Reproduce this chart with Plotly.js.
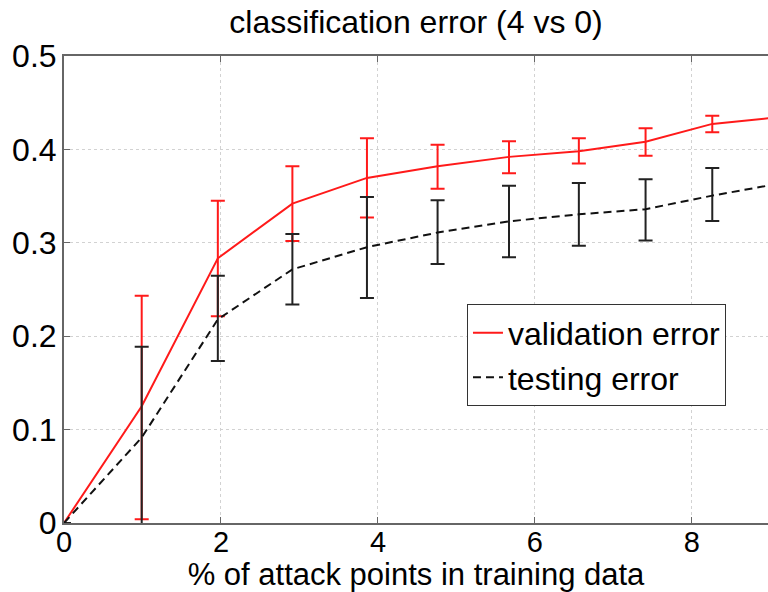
<!DOCTYPE html>
<html>
<head>
<meta charset="utf-8">
<script src="https://cdn.plot.ly/plotly-3.0.1.min.js"></script>
<style>html,body{margin:0;padding:0;background:#fff;}#chart{width:768px;height:592px;}</style>
</head>
<body>
<div id="chart"></div>
<script>
// Data
const xVals = [0, 0.99, 1.96, 2.91, 3.86, 4.76, 5.67, 6.56, 7.41, 8.26, 9.12];
const validationErr = [0.0, 0.125, 0.2834, 0.342, 0.3695, 0.382, 0.392, 0.398, 0.4083, 0.4273, 0.4345];
const validationUp = [0.0, 0.1183, 0.0616, 0.040, 0.0425, 0.023, 0.0166, 0.014, 0.0144, 0.0086, 0.008];
const validationDown = [0.0, 0.121, 0.062, 0.040, 0.0425, 0.024, 0.0175, 0.013, 0.015, 0.0089, 0.008];
const testingErr = [0.0, 0.0915, 0.218, 0.2716, 0.2953, 0.311, 0.323, 0.3305, 0.336, 0.3505, 0.3635];
const testingUp = [0.0, 0.0971, 0.0467, 0.0378, 0.0537, 0.0345, 0.038, 0.0335, 0.032, 0.0295, 0.03];
const testingDown = [0.0, 0.1015, 0.0445, 0.0376, 0.0543, 0.0336, 0.0384, 0.0337, 0.0335, 0.0272, 0.03];
const xTicks = [0, 2, 4, 6, 8];
const yTicks = [0, 0.1, 0.2, 0.3, 0.4, 0.5];
const yTickText = ['0', '0.1', '0.2', '0.3', '0.4', '0.5'];

const FONT = 'Liberation Sans, Arial, Helvetica, sans-serif';

const traces = [
  {
    x: xVals, y: validationErr, name: 'validation error', type: 'scatter', mode: 'lines',
    line: {color: '#ff1a1a', width: 2},
    error_y: {type: 'data', symmetric: false, array: validationUp, arrayminus: validationDown,
              color: '#ff1a1a', thickness: 2, width: 7}
  },
  {
    x: xVals, y: testingErr, name: 'testing error', type: 'scatter', mode: 'lines',
    line: {color: '#111111', width: 2, dash: '8px,5px'},
    error_y: {type: 'data', symmetric: false, array: testingUp, arrayminus: testingDown,
              color: '#222222', thickness: 2, width: 7}
  }
];

const layout = {
  width: 768, height: 592,
  margin: {l: 64, r: 0, t: 56, b: 69},
  paper_bgcolor: '#fff', plot_bgcolor: '#fff',
  font: {family: FONT, size: 32, color: '#000'},
  title: {text: 'classification error (4 vs 0)', font: {family: FONT, size: 32, color: '#000'},
          xref: 'paper', x: 0.5, xanchor: 'center', yref: 'container', y: 0.963, yanchor: 'middle'},
  xaxis: {
    range: [0, 8.97], tickvals: xTicks, ticktext: xTicks.map(String),
    showline: true, linecolor: '#666', linewidth: 2, mirror: 'ticks',
    ticks: 'inside', ticklen: 6, tickcolor: '#666', tickwidth: 1,
    showgrid: true, gridcolor: '#d2d2d2', griddash: 'dot', gridwidth: 1,
    zeroline: false, tickfont: {family: FONT, size: 29, color: '#000'},
    ticklabelstandoff: -8,
    title: {text: '% of attack points in training data', font: {family: FONT, size: 31, color: '#000'}, standoff: 8}
  },
  yaxis: {
    range: [0, 0.5], tickvals: yTicks, ticktext: yTickText,
    showline: true, linecolor: '#666', linewidth: 2,
    ticks: 'inside', ticklen: 6, tickcolor: '#666', tickwidth: 1,
    showgrid: true, gridcolor: '#d2d2d2', griddash: 'dot', gridwidth: 1,
    zeroline: false, tickfont: {family: FONT, size: 32, color: '#000'},
    ticklabelstandoff: -1
  },
  showlegend: true,
  legend: {
    x: 0.5724, y: 0.468, xanchor: 'left', yanchor: 'top',
    bgcolor: '#fff', bordercolor: '#333', borderwidth: 1,
    font: {family: FONT, size: 32, color: '#000'},
    tracegroupgap: 0, itemwidth: 30
  }
};

Plotly.newPlot('chart', traces, layout, {displayModeBar: false, staticPlot: true});
</script>
</body>
</html>
